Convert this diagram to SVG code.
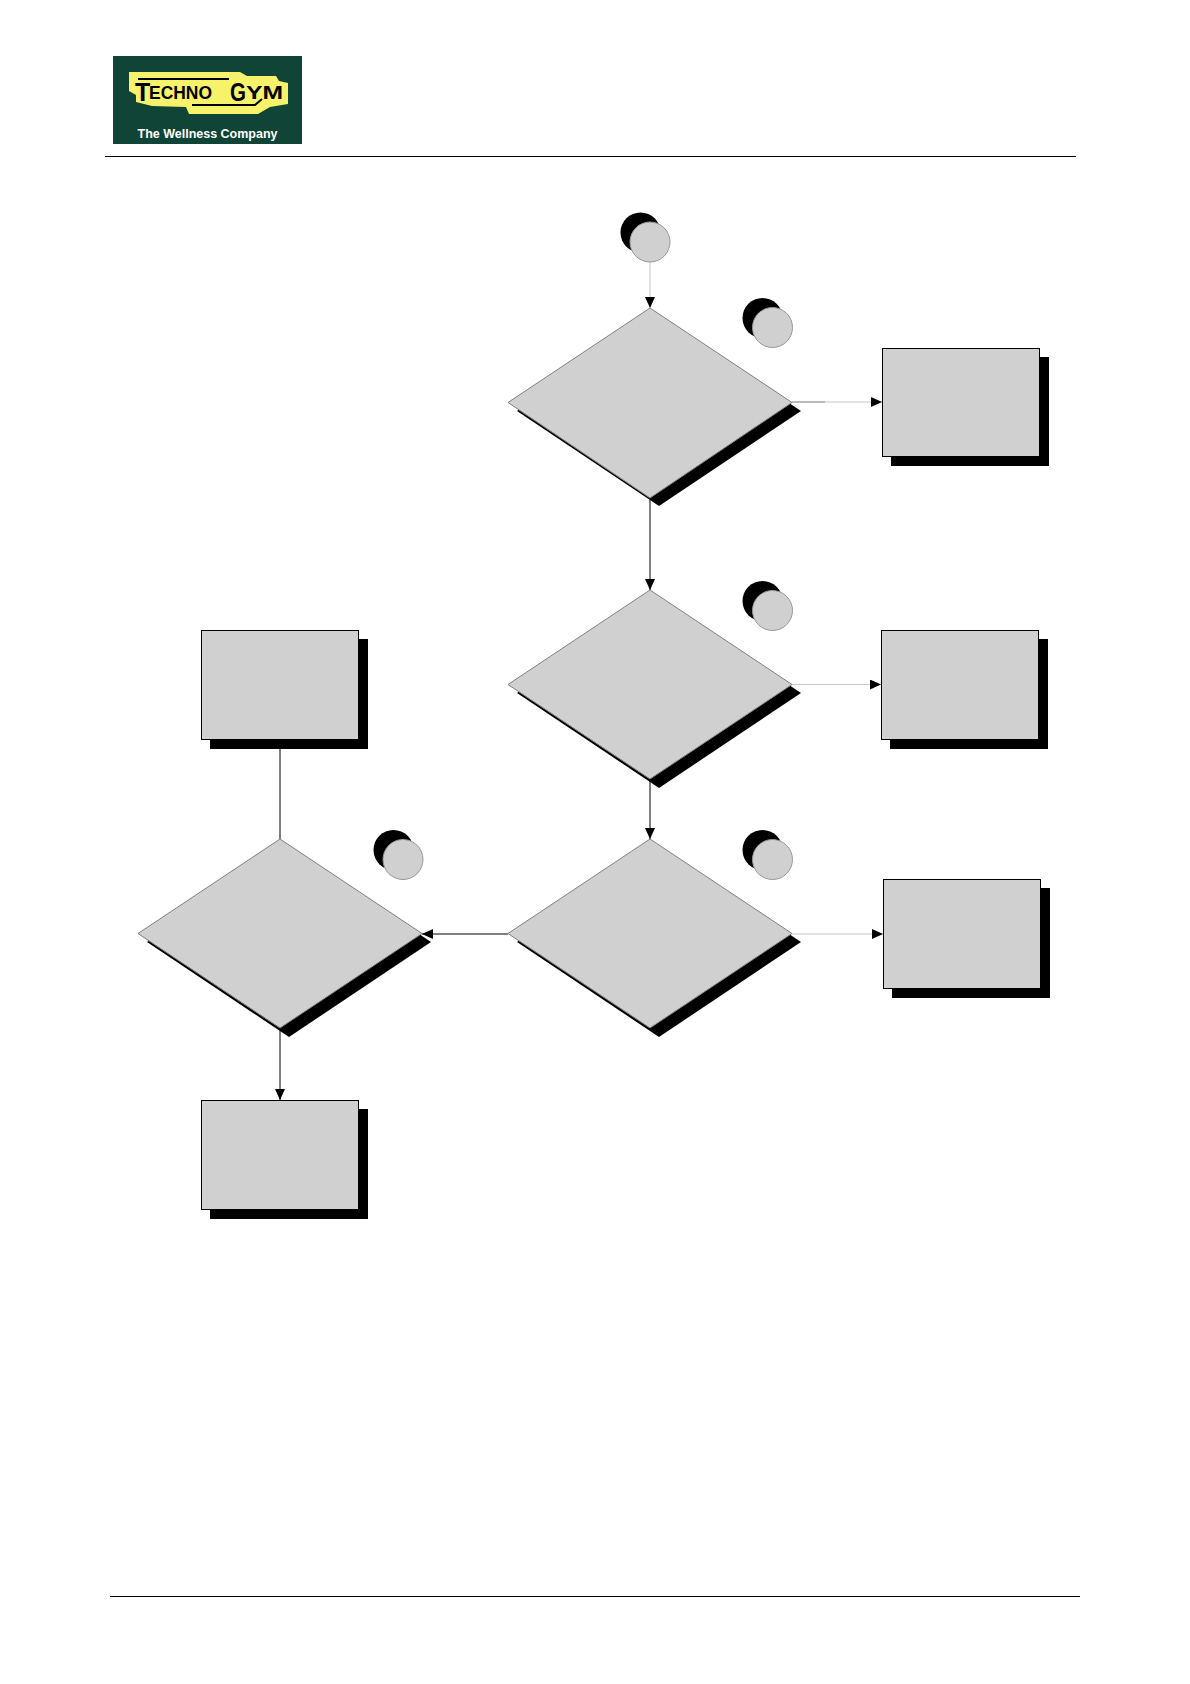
<svg xmlns="http://www.w3.org/2000/svg" width="1190" height="1684" viewBox="0 0 1190 1684">
<style>
.f{fill:#d0d0d0}
.d{stroke:#808080;stroke-width:1}
.b{stroke:#000;stroke-width:1}
.s{fill:#000}
.c{fill:none;stroke:#000;stroke-width:1}
.l{fill:none;stroke:#c8c8c8;stroke-width:1}
.m{fill:none;stroke:#909090;stroke-width:1}
.o{stroke:#999;stroke-width:1}
text{font-family:"Liberation Sans",Arial,sans-serif;font-weight:bold}
</style>
<defs><marker id="a" markerWidth="12" markerHeight="10" refX="11" refY="5" orient="auto" markerUnits="userSpaceOnUse"><path d="M0 0L11 5L0 10Z" fill="#000"/></marker></defs>
<rect width="1190" height="1684" fill="#fff"/>
<g id="header">
<rect x="113" y="56" width="189" height="88" fill="#0f4436"/>
<path d="M129 72H240L247 76H276L279 81L288 83V104L270 107L258 114H189L186 107L152 106L136 102V95L129 91Z" fill="#f6f36a"/>
<path d="M138 79H229M192 105H255L262 99" fill="none" stroke="#000" stroke-width="2"/>
<text x="135" y="101" font-size="25" fill="#000">T</text>
<text x="149" y="99" font-size="18" fill="#000" textLength="63" lengthAdjust="spacingAndGlyphs">ECHNO</text>
<text x="230" y="101" font-size="25" fill="#000" textLength="16" lengthAdjust="spacingAndGlyphs">G</text>
<text x="246" y="99" font-size="18" fill="#000" textLength="37" lengthAdjust="spacingAndGlyphs">YM</text>
<text x="137.500" y="138" font-size="12" fill="#fff" textLength="140" lengthAdjust="spacingAndGlyphs">The Wellness Company</text>
<path d="M105 156.500H1076" stroke="#000" stroke-width="1"/>
</g>
<g id="footer"><path d="M110 1596.500H1080" stroke="#000" stroke-width="1"/></g>
<g id="connectors">
<path class="l" d="M650 262V308" marker-end="url(#a)"/>
<path class="l" d="M792 402H882" marker-end="url(#a)"/>
<path class="m" d="M792 402H825"/>
<path class="c" d="M650 498V590" marker-end="url(#a)"/>
<path class="l" d="M792 684.500H881" marker-end="url(#a)"/>
<path class="c" d="M650 779V839" marker-end="url(#a)"/>
<path class="l" d="M792 934H883" marker-end="url(#a)"/>
<path class="c" d="M508 934H422" marker-end="url(#a)"/>
<path class="c" d="M280 749V839"/>
<path class="c" d="M280 1028V1100" marker-end="url(#a)"/>
</g>
<g id="start"><circle class="s" cx="640.500" cy="232.500" r="20"/><circle class="f o" cx="650" cy="242" r="20"/></g>
<g id="marker1"><circle class="s" cx="762.500" cy="318" r="20"/><circle class="f o" cx="772.500" cy="327.500" r="20"/></g>
<g id="marker2"><circle class="s" cx="762.500" cy="601" r="20"/><circle class="f o" cx="772.500" cy="610.500" r="20"/></g>
<g id="marker3"><circle class="s" cx="762.500" cy="850" r="20"/><circle class="f o" cx="772.500" cy="859.500" r="20"/></g>
<g id="marker4"><circle class="s" cx="393.500" cy="850" r="20"/><circle class="f o" cx="403" cy="859.500" r="20"/></g>
<g id="decision1"><path class="s" d="M659 316L801 411L659 506L517 411Z"/><path class="f d" d="M650 308L792 402.500L650 498L508 402.500Z"/></g>
<g id="decision2"><path class="s" d="M659 598L801 693L659 788L517 693Z"/><path class="f d" d="M650 590L792 684.500L650 779L508 684.500Z"/></g>
<g id="decision3"><path class="s" d="M659 847L801 942L659 1037L517 942Z"/><path class="f d" d="M650 839L792 933.500L650 1028L508 933.500Z"/></g>
<g id="decision4"><path class="s" d="M289 847L431 942L289 1037L147 942Z"/><path class="f d" d="M280 839L422 933.500L280 1028L138 933.500Z"/></g>
<g id="box1"><rect class="s" x="891" y="357" width="158" height="109"/><rect class="f b" x="882.500" y="348.500" width="157" height="108"/></g>
<g id="box2"><rect class="s" x="890" y="639" width="158" height="110"/><rect class="f b" x="881.500" y="630.500" width="157" height="109"/></g>
<g id="box3"><rect class="s" x="892" y="888" width="158" height="110"/><rect class="f b" x="883.500" y="879.500" width="157" height="109"/></g>
<g id="box4"><rect class="s" x="210" y="639" width="158" height="110"/><rect class="f b" x="201.500" y="630.500" width="157" height="109"/></g>
<g id="box5"><rect class="s" x="210" y="1109" width="158" height="110"/><rect class="f b" x="201.500" y="1100.500" width="157" height="109"/></g>
</svg>
